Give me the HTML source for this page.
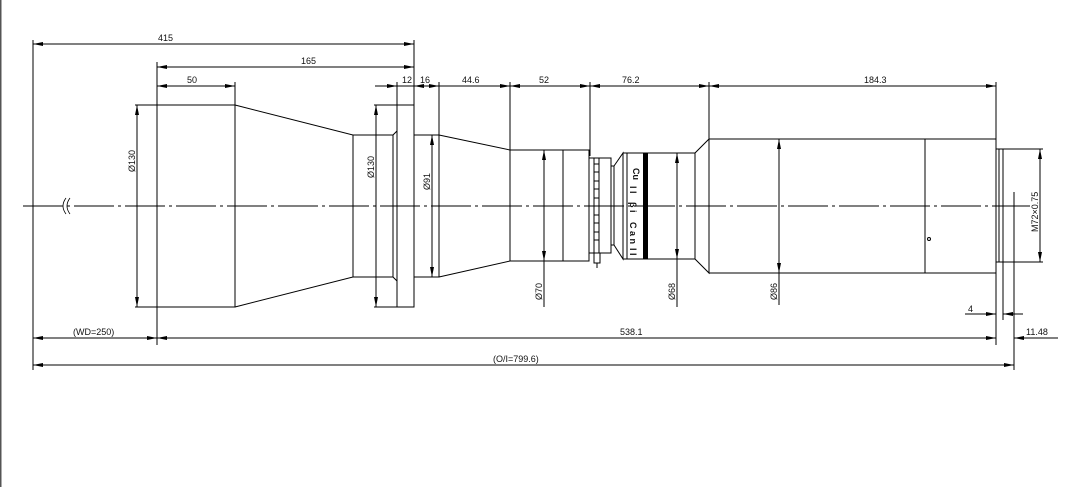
<!DOCTYPE html>
<html><head><style>
html,body{margin:0;padding:0;background:#fff;}
svg{display:block;}
text{font-family:"Liberation Sans",sans-serif;font-size:9px;fill:#111;}
</style></head><body>
<svg width="1081" height="487" viewBox="0 0 1081 487" xmlns="http://www.w3.org/2000/svg">
<defs>
<marker id="a" viewBox="0 0 10 4" refX="10" refY="2" markerWidth="10" markerHeight="4" orient="auto-start-reverse" markerUnits="userSpaceOnUse"><path d="M0,0L10,2L0,4z" fill="#000"/></marker>
</defs>
<rect x="0" y="0" width="1.5" height="487" fill="#555"/>
<g stroke="#000" stroke-width="1" fill="none">
<!-- center line -->
<line x1="23" y1="206" x2="1030" y2="206" stroke-dasharray="40,4,3,4"/>
<!-- extension lines -->
<line x1="33" y1="40" x2="33" y2="370"/>
<line x1="414" y1="40" x2="414" y2="105"/>
<line x1="157" y1="62" x2="157" y2="345"/>
<line x1="235" y1="82" x2="235" y2="105"/>
<line x1="397" y1="82" x2="397" y2="105"/>
<line x1="439" y1="82" x2="439" y2="135"/>
<line x1="510" y1="82" x2="510" y2="150"/>
<line x1="590" y1="82" x2="590" y2="156"/>
<line x1="709" y1="82" x2="709" y2="139"/>
<line x1="996" y1="82" x2="996" y2="345"/>
<line x1="1003" y1="262" x2="1003" y2="320"/>
<line x1="1014" y1="192" x2="1014" y2="370"/>
<!-- dimension lines -->
<line x1="33" y1="44" x2="414" y2="44" marker-start="url(#a)" marker-end="url(#a)"/>
<line x1="157" y1="67" x2="414" y2="67" marker-start="url(#a)" marker-end="url(#a)"/>
<line x1="157" y1="86" x2="235" y2="86" marker-start="url(#a)" marker-end="url(#a)"/>
<line x1="375" y1="86" x2="397" y2="86" marker-end="url(#a)"/>
<line x1="397" y1="86" x2="414" y2="86"/>
<line x1="414" y1="86" x2="439" y2="86" marker-start="url(#a)" marker-end="url(#a)"/>
<line x1="439" y1="86" x2="510" y2="86" marker-end="url(#a)"/>
<line x1="510" y1="86" x2="590" y2="86" marker-start="url(#a)" marker-end="url(#a)"/>
<line x1="590" y1="86" x2="709" y2="86" marker-start="url(#a)" marker-end="url(#a)"/>
<line x1="709" y1="86" x2="996" y2="86" marker-start="url(#a)" marker-end="url(#a)"/>
<line x1="33" y1="338" x2="157" y2="338" marker-start="url(#a)" marker-end="url(#a)"/>
<line x1="157" y1="338" x2="996" y2="338" marker-start="url(#a)" marker-end="url(#a)"/>
<line x1="1014" y1="338" x2="1058" y2="338" marker-start="url(#a)"/>
<line x1="33" y1="365" x2="1014" y2="365" marker-start="url(#a)" marker-end="url(#a)"/>
<line x1="965" y1="314" x2="996" y2="314" marker-end="url(#a)"/>
<line x1="1003" y1="314" x2="1023" y2="314" marker-start="url(#a)"/>
<!-- diameter dims -->
<line x1="135" y1="105" x2="157" y2="105"/><line x1="135" y1="307" x2="157" y2="307"/>
<line x1="137" y1="105" x2="137" y2="307" marker-start="url(#a)" marker-end="url(#a)"/>
<line x1="374" y1="105" x2="397" y2="105"/><line x1="374" y1="307" x2="397" y2="307"/>
<line x1="376" y1="105" x2="376" y2="307" marker-start="url(#a)" marker-end="url(#a)"/>
<line x1="432" y1="135" x2="432" y2="277" marker-start="url(#a)" marker-end="url(#a)"/>
<line x1="544" y1="150" x2="544" y2="261" marker-start="url(#a)" marker-end="url(#a)"/>
<line x1="544" y1="261" x2="544" y2="307"/>
<line x1="677" y1="153" x2="677" y2="259" marker-start="url(#a)" marker-end="url(#a)"/>
<line x1="677" y1="259" x2="677" y2="307"/>
<line x1="779" y1="139" x2="779" y2="273" marker-start="url(#a)" marker-end="url(#a)"/>
<line x1="779" y1="273" x2="779" y2="305"/>
<line x1="1003" y1="149" x2="1043" y2="149"/><line x1="1003" y1="262" x2="1043" y2="262"/>
<line x1="1040" y1="149" x2="1040" y2="262" marker-start="url(#a)" marker-end="url(#a)"/>
<!-- lens body -->
<rect x="157" y="105" width="78" height="202"/>
<polyline points="235,105 353,135 353,277 235,307"/>
<rect x="353" y="135" width="40" height="142"/>
<polyline points="393,135 397,131 397,281 393,277"/>
<rect x="397" y="105" width="17" height="202"/>
<rect x="414" y="135" width="25" height="142"/>
<polyline points="439,135 510,150 510,261 439,277"/>
<rect x="510" y="150" width="79" height="111"/>
<line x1="563" y1="150" x2="563" y2="261"/>
<rect x="589" y="158" width="22" height="95"/>
<line x1="594" y1="158" x2="594" y2="253"/>
<line x1="599" y1="158" x2="599" y2="253"/>
<rect x="594" y="164" width="5" height="8"/><rect x="594" y="181" width="5" height="8"/>
<rect x="594" y="198" width="5" height="8"/><rect x="594" y="215" width="5" height="8"/>
<rect x="594" y="232" width="5" height="8"/>
<rect x="594" y="253" width="6" height="10"/>
<line x1="597" y1="263" x2="597" y2="268"/>
<rect x="611" y="166" width="3" height="79"/>
<polyline points="614,166 623,153 623,259 614,245"/>
<rect x="623" y="153" width="72" height="106"/>
<line x1="627" y1="153" x2="627" y2="259"/>
<polyline points="695,153 709,139 709,273 695,259"/>
<rect x="709" y="139" width="287" height="134"/>
<line x1="925" y1="139" x2="925" y2="273"/>
<circle cx="929" cy="239" r="1.5"/>
<rect x="996" y="149" width="7" height="113"/>
<line x1="999" y1="149" x2="999" y2="262"/>
<path d="M66,198 q-6,8 0,16 M70,198 q-6,8 0,16" stroke-width="0.8"/>
</g>
<rect x="643" y="153" width="5" height="106" fill="#000"/>
<g font-size="8" style="font-weight:bold">
<text x="633" y="168" font-size="7" font-weight="bold" transform="rotate(90 633 168)">Cu</text>
<text x="630" y="186" font-size="8" font-weight="bold" transform="rotate(90 630 186)">l l</text>
<text x="630" y="202" font-size="8" font-weight="bold" transform="rotate(90 630 202)">β i</text>
<text x="630" y="222" font-size="8" font-weight="bold" transform="rotate(90 630 222)">C a n</text>
<text x="630" y="248" font-size="8" font-weight="bold" transform="rotate(90 630 248)">I I</text>
</g>
<text x="158" y="41">415</text>
<text x="301" y="64">165</text>
<text x="187" y="83">50</text>
<text x="402" y="83">12</text>
<text x="420" y="83">16</text>
<text x="462" y="83">44.6</text>
<text x="539" y="83">52</text>
<text x="622" y="83">76.2</text>
<text x="864" y="83">184.3</text>
<text x="73" y="335">(WD=250)</text>
<text x="620" y="335">538.1</text>
<text x="1026" y="335">11.48</text>
<text x="493" y="362">(O/I=799.6)</text>
<text x="968" y="312">4</text>
<text transform="translate(135,172) rotate(-90)">Ø130</text>
<text transform="translate(374,178) rotate(-90)">Ø130</text>
<text transform="translate(430,190) rotate(-90)">Ø91</text>
<text transform="translate(542,300) rotate(-90)">Ø70</text>
<text transform="translate(675,300) rotate(-90)">Ø68</text>
<text transform="translate(777,300) rotate(-90)">Ø86</text>
<text transform="translate(1038,232) rotate(-90)">M72×0.75</text>
</svg>
</body></html>
